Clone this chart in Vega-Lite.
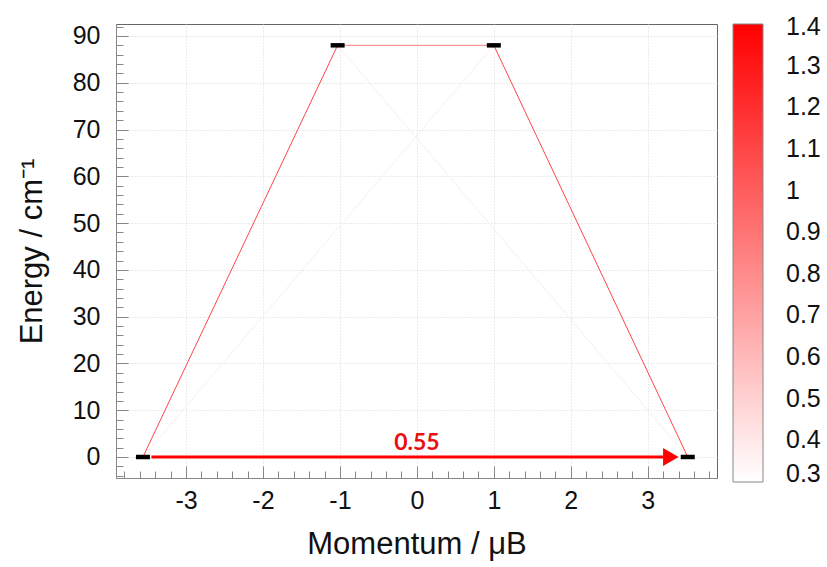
{
  "$schema": "https://vega.github.io/schema/vega-lite/v6.json",
  "autosize": {"type": "none"},
  "padding": {"left": 116, "top": 24, "right": 110, "bottom": 89},
  "width": 601,
  "height": 454,
  "background": "white",
  "config": {
    "view": {"stroke": "#666", "strokeWidth": 1},
    "font": "Liberation Sans",
    "axis": {
      "labelFont": "Liberation Sans",
      "titleFont": "Liberation Sans",
      "labelColor": "#111",
      "titleColor": "#111",
      "titleFontWeight": "normal",
      "domainColor": "#888",
      "tickColor": "#888",
      "labelFlush": false,
      "labelOverlap": false,
      "gridDash": [1, 2],
      "tickCount": 200
    },
    "legend": {
      "labelFont": "Liberation Sans"
    }
  },
  "datasets": {
    "transitions": [
      {"xa": -3.56, "ea": 0, "xb": 1.0, "eb": 88, "w": 0.38},
      {"xa": -1.03, "ea": 88, "xb": 3.52, "eb": 0, "w": 0.38},
      {"xa": -1.03, "ea": 88, "xb": 1.0, "eb": 88, "w": 0.85},
      {"xa": -3.56, "ea": 0, "xb": -1.03, "eb": 88, "w": 1.1},
      {"xa": 1.0, "ea": 88, "xb": 3.52, "eb": 0, "w": 1.1}
    ],
    "levels": [
      {"m": -3.56, "e": 0},
      {"m": 3.52, "e": 0},
      {"m": -1.03, "e": 88},
      {"m": 1.0, "e": 88}
    ],
    "arrow": [
      {"xa": -3.45, "xb": 3.2, "e": 0, "tip": 3.3, "label": "0.55", "lx": 0.0, "le": 3.0}
    ]
  },
  "layer": [
    {
      "data": {"name": "transitions"},
      "mark": {"type": "rule", "strokeWidth": 1},
      "encoding": {
        "x": {
          "field": "xa", "type": "quantitative",
          "scale": {"domain": [-3.91, 3.9], "nice": false, "zero": false},
          "axis": {
            "title": "Momentum / μB",
            "titleFontSize": 31,
            "titlePadding": 11,
            "tickCount": 200,
            "values": [-3.8,-3.6,-3.4,-3.2,-3,-2.8,-2.6,-2.4,-2.2,-2,-1.8,-1.6,-1.4,-1.2,-1,-0.8,-0.6,-0.4,-0.2,0,0.2,0.4,0.6,0.8,1,1.2,1.4,1.6,1.8,2,2.2,2.4,2.6,2.8,3,3.2,3.4,3.6,3.8],
            "labelExpr": "abs(datum.value - round(datum.value)) < 0.01 ? '' + round(datum.value) : ''",
            "labelFontSize": 25,
            "labelPadding": 22,
            "tickSize": {"condition": {"test": "abs(datum.value - round(datum.value)) < 0.01", "value": -12}, "value": -7},
            "grid": true,
            "gridColor": {"condition": {"test": "abs(datum.value - round(datum.value)) < 0.01", "value": "#d9d9d9"}, "value": "transparent"}
          }
        },
        "x2": {"field": "xb"},
        "y": {
          "field": "ea", "type": "quantitative",
          "scale": {"domain": [-4.49, 92.56], "nice": false, "zero": false},
          "axis": {
            "title": "Energy / cm⁻¹",
            "titleFontSize": 31,
            "titlePadding": 24,
            "tickCount": 200,
            "values": [-4,-2,0,2,4,6,8,10,12,14,16,18,20,22,24,26,28,30,32,34,36,38,40,42,44,46,48,50,52,54,56,58,60,62,64,66,68,70,72,74,76,78,80,82,84,86,88,90,92],
            "labelExpr": "datum.value % 10 == 0 ? '' + datum.value : ''",
            "labelFontSize": 25,
            "labelPadding": 28,
            "tickSize": {"condition": {"test": "datum.value % 10 == 0", "value": -12}, "value": -7},
            "grid": true,
            "gridColor": {"condition": {"test": "datum.value % 10 == 0", "value": "#d9d9d9"}, "value": "transparent"}
          }
        },
        "y2": {"field": "eb"},
        "color": {
          "field": "w", "type": "quantitative",
          "scale": {"domain": [0.3, 1.4], "range": ["#ffffff", "#ff0000"], "interpolate": "rgb"},
          "legend": {
            "title": null,
            "orient": "right",
            "offset": 16,
            "padding": 0,
            "gradientLength": 458,
            "gradientThickness": 30,
            "gradientStrokeColor": "#888",
            "gradientStrokeWidth": 1,
            "values": [0.3, 0.4, 0.5, 0.6, 0.7, 0.8, 0.9, 1.0, 1.1, 1.2, 1.3, 1.4],
            "format": ".1~f",
            "labelFontSize": 25,
            "labelColor": "#111",
            "labelOverlap": false,
            "encode": {
              "labels": {
                "update": {
                  "x": {"value": 53},
                  "align": {"value": "left"},
                  "baseline": {"value": "middle"},
                  "dy": {"signal": "datum.perc >= 0.99 ? 3 : datum.perc <= 0.01 ? -8 : 0"}
                }
              }
            }
          }
        }
      }
    },
    {
      "data": {"name": "arrow"},
      "mark": {"type": "rule", "strokeWidth": 3, "color": "#ff0000"},
      "encoding": {
        "x": {"field": "xa", "type": "quantitative"},
        "x2": {"field": "xb"},
        "y": {"field": "e", "type": "quantitative"}
      }
    },
    {
      "data": {"name": "arrow"},
      "mark": {"type": "point", "shape": "triangle-right", "filled": true, "opacity": 1, "color": "#ff0000", "size": 320},
      "encoding": {
        "x": {"field": "tip", "type": "quantitative"},
        "y": {"field": "e", "type": "quantitative"}
      }
    },
    {
      "data": {"name": "arrow"},
      "mark": {"type": "text", "font": "Lato", "fontWeight": "bold", "fontSize": 23, "color": "#e81010", "baseline": "middle", "align": "center"},
      "encoding": {
        "x": {"field": "lx", "type": "quantitative"},
        "y": {"field": "le", "type": "quantitative"},
        "text": {"field": "label"}
      }
    },
    {
      "data": {"name": "levels"},
      "mark": {"type": "point", "shape": "M-1,-0.32L1,-0.32L1,0.32L-1,0.32Z", "filled": true, "opacity": 1, "color": "#000000", "size": 196},
      "encoding": {
        "x": {"field": "m", "type": "quantitative"},
        "y": {"field": "e", "type": "quantitative"}
      }
    }
  ]
}
